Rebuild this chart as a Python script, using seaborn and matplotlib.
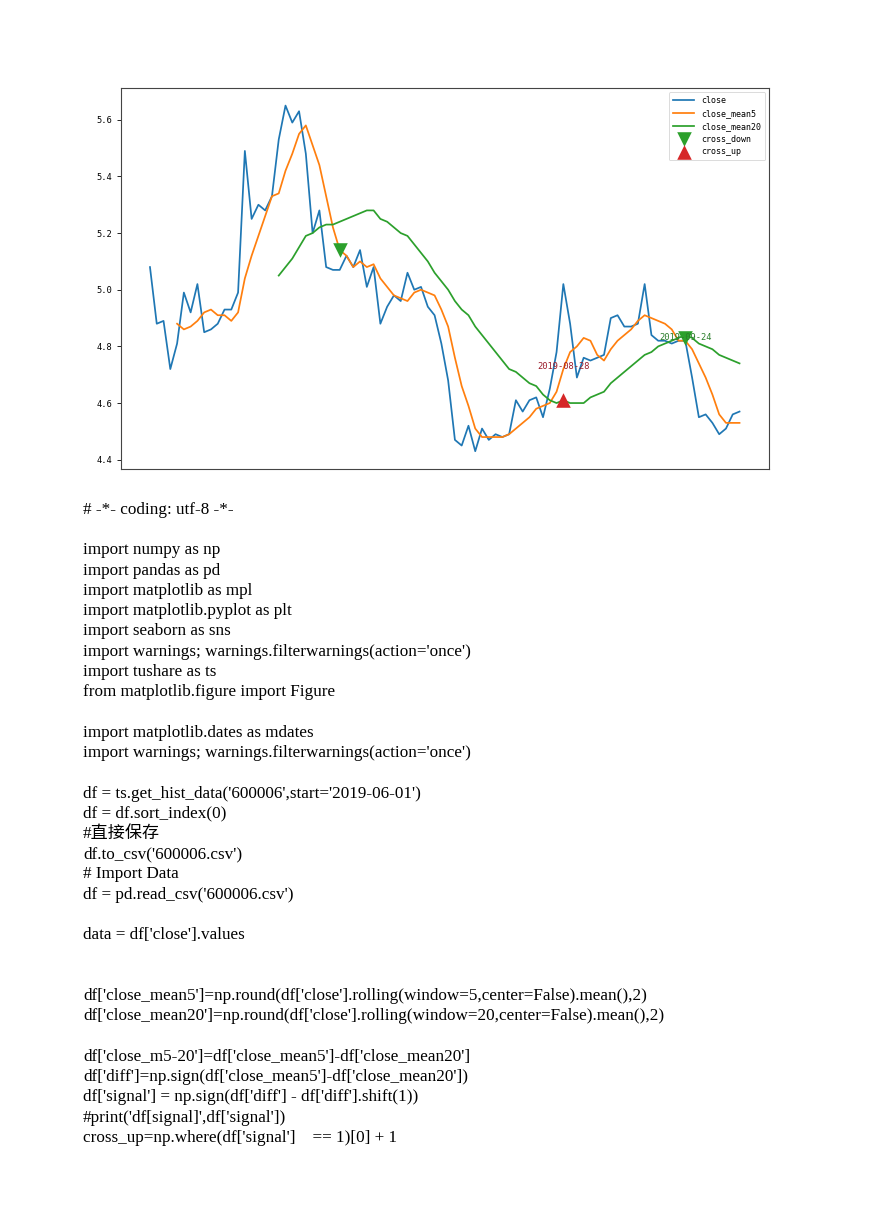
import numpy as np
import pandas as pd
import matplotlib
matplotlib.use("Agg")
import matplotlib.pyplot as plt
import seaborn as sns

# ---------------- data ----------------
close = [5.08, 4.88, 4.89, 4.72, 4.81, 4.99, 4.92, 5.02, 4.85, 4.86,
         4.88, 4.93, 4.93, 4.99, 5.49, 5.25, 5.30, 5.28, 5.33, 5.53,
         5.65, 5.59, 5.63, 5.48, 5.20, 5.28, 5.08, 5.07, 5.07, 5.12,
         5.08, 5.14, 5.01, 5.08, 4.88, 4.94, 4.98, 4.96, 5.06, 5.00,
         5.01, 4.94, 4.91, 4.81, 4.68, 4.47, 4.45, 4.52, 4.43, 4.51,
         4.47, 4.49, 4.48, 4.49, 4.61, 4.57, 4.61, 4.62, 4.55, 4.65,
         4.78, 5.02, 4.88, 4.69, 4.76, 4.75, 4.76, 4.77, 4.90, 4.91,
         4.87, 4.87, 4.88, 5.02, 4.84, 4.82, 4.82, 4.81, 4.82, 4.82,
         4.69, 4.55, 4.56, 4.53, 4.49, 4.51, 4.56, 4.57]

# close_mean5 from index 4 on
close_mean5 = [4.88, 4.86, 4.87, 4.89, 4.92, 4.93, 4.91, 4.91, 4.89, 4.92,
               5.04, 5.12, 5.19, 5.26, 5.33, 5.34, 5.42, 5.48, 5.55, 5.58,
               5.51, 5.44, 5.33, 5.22, 5.14, 5.12, 5.08, 5.10, 5.08, 5.09,
               5.04, 5.01, 4.98, 4.97, 4.96, 4.99, 5.00, 4.99, 4.98, 4.93,
               4.87, 4.76, 4.66, 4.59, 4.51, 4.48, 4.48, 4.48, 4.48, 4.49,
               4.51, 4.53, 4.55, 4.58, 4.59, 4.60, 4.64, 4.72, 4.78, 4.80,
               4.83, 4.82, 4.77, 4.75, 4.79, 4.82, 4.84, 4.86, 4.89, 4.91,
               4.90, 4.89, 4.88, 4.86, 4.82, 4.82, 4.79, 4.74, 4.69, 4.63,
               4.56, 4.53, 4.53, 4.53]

# close_mean20 from index 19 on
close_mean20 = [5.05, 5.08, 5.11, 5.15, 5.19, 5.20, 5.22, 5.23, 5.23, 5.24,
                5.25, 5.26, 5.27, 5.28, 5.28, 5.25, 5.24, 5.22, 5.20, 5.19,
                5.16, 5.13, 5.10, 5.06, 5.03, 5.00, 4.96, 4.93, 4.91, 4.87,
                4.84, 4.81, 4.78, 4.75, 4.72, 4.71, 4.69, 4.67, 4.66, 4.63,
                4.61, 4.60, 4.61, 4.60, 4.60, 4.60, 4.62, 4.63, 4.64, 4.67,
                4.69, 4.71, 4.73, 4.75, 4.77, 4.78, 4.80, 4.81, 4.82, 4.83,
                4.84, 4.83, 4.81, 4.80, 4.79, 4.77, 4.76, 4.75, 4.74]

cross_down_idx = [28, 79]
cross_down_val = [5.14, 4.83]
cross_up_idx = [61]
cross_up_val = [4.61]

label_up_text = ["2019-08-28"]
label_up_idx = [61]
label_up_val = [4.73]
label_down_text = ["2019-09-24"]
label_down_idx = [79]
label_down_val = [4.83]

y_ticks = [4.4, 4.6, 4.8, 5.0, 5.2, 5.4, 5.6]

code_lines = [
    "# -*- coding: utf-8 -*-",
    "",
    "import numpy as np",
    "import pandas as pd",
    "import matplotlib as mpl",
    "import matplotlib.pyplot as plt",
    "import seaborn as sns",
    "import warnings; warnings.filterwarnings(action='once')",
    "import tushare as ts",
    "from matplotlib.figure import Figure",
    "",
    "import matplotlib.dates as mdates",
    "import warnings; warnings.filterwarnings(action='once')",
    "",
    "df = ts.get_hist_data('600006',start='2019-06-01')",
    "df = df.sort_index(0)",
    "#直接保存",
    "df.to_csv('600006.csv')",
    "# Import Data",
    "df = pd.read_csv('600006.csv')",
    "",
    "data = df['close'].values",
    "",
    "",
    "df['close_mean5']=np.round(df['close'].rolling(window=5,center=False).mean(),2)",
    "df['close_mean20']=np.round(df['close'].rolling(window=20,center=False).mean(),2)",
    "",
    "df['close_m5-20']=df['close_mean5']-df['close_mean20']",
    "df['diff']=np.sign(df['close_mean5']-df['close_mean20'])",
    "df['signal'] = np.sign(df['diff'] - df['diff'].shift(1))",
    "#print('df[signal]',df['signal'])",
    "cross_up=np.where(df['signal']    == 1)[0] + 1",
]

# ---------------- tables ----------------
df_close = pd.DataFrame({"x": np.arange(len(close)), "v": close})
df_m5 = pd.DataFrame({"x": np.arange(4, 4 + len(close_mean5)), "v": close_mean5})
df_m20 = pd.DataFrame({"x": np.arange(19, 19 + len(close_mean20)), "v": close_mean20})
df_down = pd.DataFrame({"x": cross_down_idx, "v": cross_down_val})
df_up = pd.DataFrame({"x": cross_up_idx, "v": cross_up_val})

# ---------------- figure ----------------
W, H = 869, 1228
fig = plt.figure(figsize=(W / 100, H / 100), dpi=100)
fig.patch.set_facecolor("white")

l, t, r, b = 120.5, 88.3, 769.0, 468.5
ax = fig.add_axes([l / W, 1 - b / H, (r - l) / W, (b - t) / H])

blue, orange, green, red = "#1f77b4", "#ff7f0e", "#2ca02c", "#d62728"
chart_font = ["DejaVu Sans Mono"]

sns.lineplot(data=df_close, x="x", y="v", ax=ax, color=blue, lw=1.25, label="close")
sns.lineplot(data=df_m5, x="x", y="v", ax=ax, color=orange, lw=1.25, label="close_mean5")
sns.lineplot(data=df_m20, x="x", y="v", ax=ax, color=green, lw=1.25, label="close_mean20")
sns.scatterplot(data=df_down, x="x", y="v", ax=ax, color=green, marker="v",
                s=110, linewidth=0, label="cross_down", zorder=4)
sns.scatterplot(data=df_up, x="x", y="v", ax=ax, color=red, marker="^",
                s=110, linewidth=0, label="cross_up", zorder=4)

for txt, xi, yv in zip(label_up_text, label_up_idx, label_up_val):
    ax.text(xi, yv, txt, color="#9b1b2a", fontsize=6.3, ha="center", va="center",
            family=chart_font, zorder=5)
for txt, xi, yv in zip(label_down_text, label_down_idx, label_down_val):
    ax.text(xi, yv, txt, color="#2a7d2a", fontsize=6.3, ha="center", va="center",
            family=chart_font, zorder=5)

ax.set_xlabel("")
ax.set_ylabel("")
ax.set_xticks([])
ax.set_yticks(y_ticks)
ax.set_yticklabels([f"{v:.1f}" for v in y_ticks], family=chart_font, fontsize=6.3)
ax.tick_params(axis="y", length=3, width=0.6, pad=3)
for sp in ax.spines.values():
    sp.set_color("#444444")
    sp.set_linewidth(0.8)

leg = ax.legend(loc="upper right", prop={"family": chart_font, "size": 6},
                handlelength=2.6, borderpad=0.5, labelspacing=0.45,
                handletextpad=0.8, borderaxespad=0.45, markerscale=1.0)
leg.get_frame().set_linewidth(0.6)

# ---------------- code text below chart ----------------
x0 = 83 / W
y_first = 510.0
step = 20.25
for k, line in enumerate(code_lines):
    if not line:
        continue
    yy = y_first + k * step
    fig.text(x0, 1 - yy / H, line, fontsize=12.3, ha="left", va="center",
             family=["Liberation Serif", "Noto Sans CJK SC"], color="black")

fig.savefig("out.png", dpi=100, facecolor="white")
